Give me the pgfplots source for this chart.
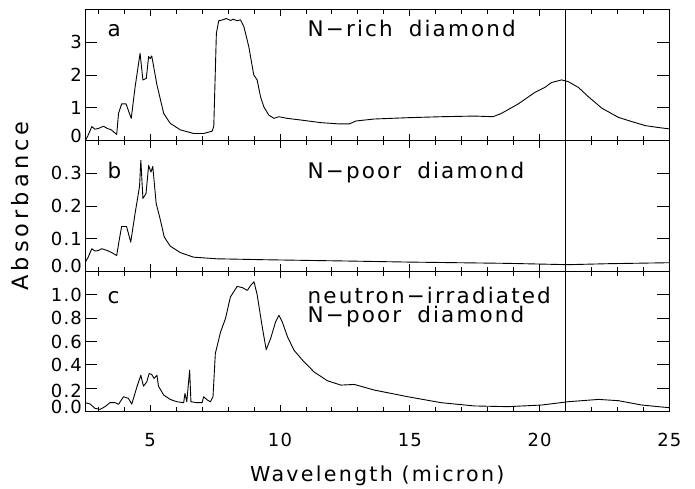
\documentclass[border=0pt]{standalone}
\usepackage{fontspec}
\setmainfont{DejaVu Sans}[LetterSpace=6]
\newfontfamily\lab{DejaVu Sans}[LetterSpace=10]
\newfontfamily\labx{DejaVu Sans}[LetterSpace=11]
\newfontfamily\laby{DejaVu Sans}[LetterSpace=18]
\usepackage{pgfplots}
\usepackage{pgfplotstable}
\pgfplotsset{compat=1.18}

\pgfplotstableread{
x y
2.5 0.0
2.6 0.15
2.75 0.43
2.87 0.35
3.0 0.37
3.2 0.44
3.33 0.38
3.5 0.33
3.71 0.19
3.78 0.83
3.9 1.12
4.07 1.12
4.27 0.68
4.42 1.64
4.61 2.66
4.72 1.85
4.85 1.90
4.94 2.56
5.0 2.50
5.06 2.58
5.13 2.27
5.26 1.70
5.52 0.83
5.77 0.53
6.16 0.33
6.67 0.22
7.07 0.22
7.2 0.25
7.39 0.29
7.45 0.44
7.55 3.27
7.64 3.65
7.8 3.68
7.93 3.72
8.1 3.66
8.2 3.70
8.35 3.65
8.48 3.68
8.61 3.47
8.8 2.86
8.99 2.0
9.12 1.85
9.25 1.34
9.38 1.03
9.57 0.78
9.77 0.68
9.96 0.73
10.28 0.68
10.8 0.63
11.57 0.55
12.3 0.51
12.67 0.51
12.93 0.60
13.63 0.66
14.92 0.70
16.21 0.73
17.5 0.75
18.21 0.73
18.53 0.83
19.18 1.12
19.82 1.47
20.2 1.62
20.46 1.77
20.85 1.85
21.1 1.80
21.5 1.62
21.88 1.34
22.4 0.99
23.04 0.71
23.56 0.58
24.07 0.46
24.59 0.40
25.0 0.36
}\dataA

\pgfplotstableread{
x y
2.5 0.028
2.6 0.041
2.75 0.069
2.87 0.062
3.0 0.063
3.13 0.069
3.33 0.064
3.52 0.057
3.71 0.048
3.81 0.097
3.9 0.137
4.09 0.137
4.25 0.089
4.42 0.178
4.59 0.26
4.64 0.34
4.72 0.223
4.84 0.238
4.94 0.324
5.03 0.304
5.1 0.321
5.23 0.208
5.39 0.158
5.54 0.105
5.77 0.077
6.16 0.057
6.67 0.043
7.58 0.038
9.51 0.035
12.73 0.031
14.92 0.028
18.79 0.024
21.1 0.020
22.65 0.023
25.0 0.026
}\dataB

\pgfplotstableread{
x y
2.5 0.077
2.69 0.065
2.87 0.029
3.07 0.02
3.26 0.043
3.45 0.077
3.65 0.077
3.78 0.063
3.97 0.128
4.16 0.114
4.29 0.065
4.49 0.213
4.64 0.312
4.74 0.218
4.87 0.255
4.96 0.326
5.06 0.318
5.15 0.284
5.26 0.312
5.32 0.218
5.52 0.142
5.77 0.105
6.03 0.085
6.29 0.077
6.34 0.156
6.41 0.085
6.52 0.355
6.57 0.085
6.8 0.077
7.0 0.077
7.06 0.128
7.2 0.1
7.32 0.085
7.42 0.128
7.51 0.497
7.71 0.68
7.9 0.795
8.09 0.98
8.35 1.07
8.55 1.06
8.74 1.036
8.87 1.078
9.0 1.11
9.12 1.0
9.32 0.72
9.47 0.53
9.64 0.625
9.83 0.766
9.96 0.823
10.09 0.766
10.29 0.64
10.54 0.525
10.87 0.44
11.31 0.34
11.83 0.264
12.35 0.227
12.86 0.233
13.63 0.185
14.92 0.128
16.21 0.077
17.5 0.049
18.79 0.043
20.08 0.057
21.1 0.085
22.27 0.105
23.04 0.094
23.94 0.057
25.0 0.034
}\dataC

\tikzset{
  tk/.style={black, line width=0.8bp},
  lbl/.style={anchor=base west, inner sep=0, font=\lab\fontsize{21.5bp}{25bp}\selectfont},
}
\newcommand\panelticks[1]{%
  \pgfplotsinvokeforeach{3,4,6,7,8,9,11,12,13,14,16,17,18,19,21,22,23,24}{%
    \draw[tk] ({axis cs:##1,0}|-{rel axis cs:0,0}) -- +(canvas cs:x=0bp,y=4.5bp);
    \draw[tk] ({axis cs:##1,0}|-{rel axis cs:0,1}) -- +(canvas cs:x=0bp,y=-4.5bp);}
  \pgfplotsinvokeforeach{5,10,15,20}{%
    \draw[tk] ({axis cs:##1,0}|-{rel axis cs:0,0}) -- +(canvas cs:x=0bp,y=7bp);
    \draw[tk] ({axis cs:##1,0}|-{rel axis cs:0,1}) -- +(canvas cs:x=0bp,y=-7bp);}
  \pgfplotsinvokeforeach{#1}{%
    \draw[tk] ({rel axis cs:0,0}|-{axis cs:3,##1}) -- +(canvas cs:x=12bp,y=0bp);
    \draw[tk] ({rel axis cs:1,0}|-{axis cs:3,##1}) -- +(canvas cs:x=-12bp,y=0bp);}
}

\pgfplotsset{
  panel/.style={
    scale only axis, width=584bp,
    xmin=2.5, xmax=25,
    xtick={5,10,15,20,25},
    major tick length=0pt, minor tick length=0pt,
    tick style={draw=none},
    clip mode=individual,
    axis line style={line width=0.8bp},
    /pgf/number format/assume math mode=true,
    ticklabel style={font=\fontsize{18bp}{20bp}\selectfont},
  },
  curve/.style={black, line width=0.9bp, line join=round},
}

\begin{document}
\begin{tikzpicture}
\useasboundingbox (0,0) rectangle (695bp,489bp);

% panel a
\begin{axis}[panel, at={(85.3bp,348.3bp)}, anchor=south west, height=131.4bp,
  ymin=0, ymax=4, ytick={0,1,2,3},
  yticklabels={\raisebox{5bp}[\height][\depth]{0},1,2,3}, xticklabel=\empty]
\addplot[curve] table[x=x,y=y] {\dataA};
\addplot[black, line width=0.8bp] coordinates {(21,0) (21,4)};
\panelticks{1,2,3}
\node[lbl] at (axis cs:3.35,3.17) {a};
\node[lbl] at (axis cs:11.06,3.17) {N−rich\hspace{7bp} diamond};
\end{axis}

% panel b
\begin{axis}[panel, at={(85.3bp,217.8bp)}, anchor=south west, height=130.5bp,
  ymin=0, ymax=0.4, ytick={0,0.1,0.2,0.3},
  yticklabels={\raisebox{5bp}[\height][\depth]{0.0},0.1,0.2,0.3}, xticklabel=\empty]
\addplot[curve] table[x=x,y=y] {\dataB};
\addplot[black, line width=0.8bp] coordinates {(21,0) (21,0.4)};
\panelticks{0.1,0.2,0.3}
\node[lbl] at (axis cs:3.35,0.284) {b};
\node[lbl] at (axis cs:11.06,0.284) {N−poor\hspace{7bp} diamond};
\end{axis}

% panel c
\begin{axis}[panel, at={(85.3bp,77.3bp)}, anchor=south west, height=140.5bp,
  ymin=0, ymax=1.2, ytick={0,0.2,0.4,0.6,0.8,1.0},
  yticklabels={\raisebox{5bp}[\height][\depth]{0.0},\raisebox{-3bp}[\height][\depth]{0.2},0.4,0.6,0.8,1.0},
  xticklabel=\empty,
  xlabel={\labx\fontsize{20.6bp}{24bp}\selectfont Wavelength (micron)},
  xlabel style={at={(rel axis cs:0.5,0)}, anchor=base, yshift=-70bp}]
\addplot[curve] table[x=x,y=y] {\dataC};
\addplot[black, line width=0.8bp] coordinates {(21,0) (21,1.2)};
\panelticks{0.2,0.4,0.6,0.8,1.0}
\pgfplotsinvokeforeach{5,10,15,20,25}{%
  \node[anchor=base, inner sep=0, yshift=-34.5bp, font=\fontsize{18bp}{20bp}\selectfont] at (axis cs:#1,0) {#1};}
\node[lbl] at (axis cs:3.35,0.922) {c};
\node[lbl] at (axis cs:11.06,0.928) {neutron−irradiated};
\node[lbl] at (axis cs:11.06,0.766) {N−poor\hspace{7bp} diamond};
\end{axis}

\node[rotate=90, font=\laby\fontsize{22.5bp}{26bp}\selectfont] at (20bp,283bp) {Absorbance};
\end{tikzpicture}
\end{document}
